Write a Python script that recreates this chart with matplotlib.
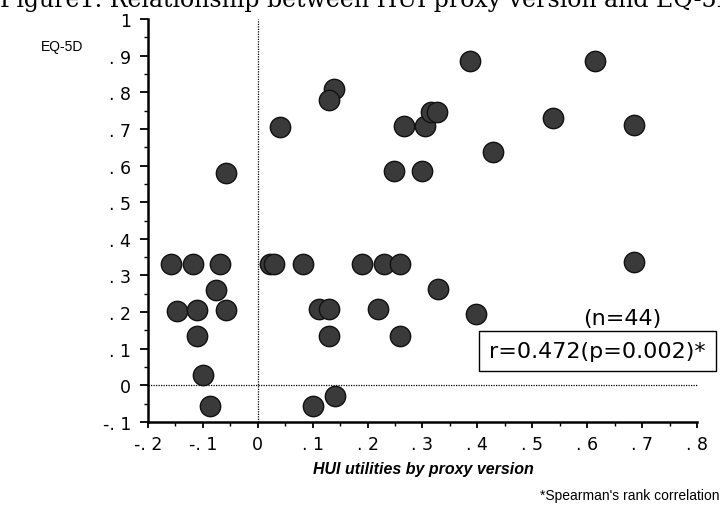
import numpy as np
import matplotlib.pyplot as plt
from matplotlib.ticker import MultipleLocator, FuncFormatter

# HUI proxy utilities (x) and EQ-5D utilities (y)
hui = [-0.158, -0.118, -0.069, -0.076, -0.148, -0.110, -0.058, -0.110, -0.099, -0.087,
       -0.058,
       0.022, 0.030, 0.083, 0.190, 0.230, 0.259,
       0.041, 0.139, 0.129, 0.386, 0.615, 0.538, 0.685, 0.428, 0.248, 0.299,
       0.266, 0.305, 0.316, 0.326,
       0.111, 0.129, 0.130, 0.219, 0.259, 0.329, 0.398, 0.140, 0.101, 0.686]
eq5d = [0.330, 0.330, 0.330, 0.259, 0.203, 0.206, 0.206, 0.136, 0.027, -0.056,
        0.581,
        0.330, 0.330, 0.330, 0.330, 0.330, 0.330,
        0.706, 0.810, 0.778, 0.884, 0.885, 0.729, 0.710, 0.638, 0.584, 0.584,
        0.707, 0.707, 0.745, 0.745,
        0.209, 0.209, 0.136, 0.209, 0.136, 0.262, 0.195, -0.029, -0.056, 0.336]

x_ticks = [-0.2, -0.1, 0, 0.1, 0.2, 0.3, 0.4, 0.5, 0.6, 0.7, 0.8]
y_ticks = [-0.1, 0, 0.1, 0.2, 0.3, 0.4, 0.5, 0.6, 0.7, 0.8, 0.9, 1.0]


def fmt(v, pos=None):
    # SAS-style labels: ". 9", "-. 1", "0", "1"
    if abs(v) < 1e-9:
        return "0"
    if abs(abs(v) - 1) < 1e-9:
        return "1" if v > 0 else "-1"
    s = "%.1f" % v
    s = s.replace("0.", ". ")
    return s


fig = plt.figure(figsize=(7.2, 5.1), dpi=100)
ax = fig.add_axes([148 / 720, 1 - 423 / 510, 549 / 720, 403 / 510])

ax.set_xlim(-0.2, 0.8)
ax.set_ylim(-0.1, 1.0)

# reference lines at zero
ax.axvline(0, color="black", lw=0.9, ls=(0, (1, 1)), zorder=1)
ax.plot([-0.2, 0.8], [0, 0], color="black", lw=0.9, ls=(0, (1, 1)), zorder=1,
        clip_on=False)

ax.scatter(hui, eq5d, s=215, facecolor="#3a3a3a", edgecolor="#111111",
           linewidths=1.0, zorder=3, clip_on=False)

for side in ["top", "right"]:
    ax.spines[side].set_visible(False)
ax.spines["left"].set_linewidth(1.8)
ax.spines["bottom"].set_linewidth(1.8)

ax.set_xticks(x_ticks)
ax.set_yticks(y_ticks)
ax.xaxis.set_minor_locator(MultipleLocator(0.05))
ax.yaxis.set_minor_locator(MultipleLocator(0.05))
ax.xaxis.set_major_formatter(FuncFormatter(fmt))
ax.yaxis.set_major_formatter(FuncFormatter(fmt))
ax.tick_params(which="major", length=6, width=1.3, labelsize=12.5, pad=6)
ax.tick_params(which="minor", length=3, width=1.0)
ax.tick_params(axis="x", which="major", length=4, pad=5)

# labels
fig.text(62 / 720, 1 - 47 / 510, "EQ-5D", fontsize=10, ha="center", va="center",
         family=["Liberation Sans", "DejaVu Sans"])
fig.text(423 / 720, 1 - 470 / 510, "HUI utilities by proxy version", fontsize=11.5,
         fontweight="bold", fontstyle="italic", ha="center", va="center",
         family=["Liberation Sans", "DejaVu Sans"])
fig.text(720 / 720, 1 - 496 / 510, "*Spearman's rank correlation", fontsize=10,
         ha="right", va="center", family=["Liberation Sans", "DejaVu Sans"])

# title cut off at the top edge, as in the scanned figure
fig.text(0.0, 1.0, "Figure1. Relationship between HUI proxy version and EQ-5D",
         fontsize=17, ha="left", va="center", family="DejaVu Serif")

# correlation annotation
fig.text(622 / 720, 1 - 319 / 510, "(n=44)", fontsize=16, ha="center", va="center",
         family="DejaVu Sans")
fig.text(489 / 720, 1 - 352 / 510, "r=0.472(p=0.002)*", fontsize=16, ha="left",
         va="center", family="DejaVu Sans",
         bbox=dict(boxstyle="square,pad=0.45", facecolor="white", edgecolor="black",
                   linewidth=1.0))

fig.savefig("out.png", dpi=100)
